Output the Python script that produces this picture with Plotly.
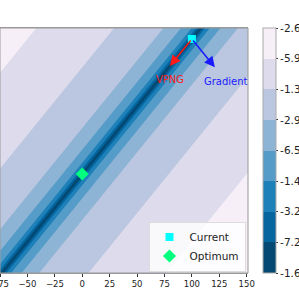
import numpy as np
import plotly.graph_objects as go

# ---- data ----
# contour level labels (colorbar, top -> bottom), truncated by the figure edge
level_labels = ["-2.64", "-5.92", "-1.33", "-2.94", "-6.52", "-1.45", "-3.27", "-7.29", "-1.62"]
# horizontal distance (x units) from the valley line at which each level boundary lies
boundary_dist = [0.0, 1.8, 4.1, 8.2, 18.0, 34.0, 79.0, 150.0, 400.0]
boundary_level = [0.5, 1.0, 2.0, 3.0, 4.0, 5.0, 6.0, 7.0, 8.0]
# band colours, darkest (centre) -> lightest
band_colors = ["#034973", "#04659f", "#1e80b8", "#559cc8", "#8db3d5", "#bbc7e0", "#dedcec", "#f6eff7"]

current_pt = [100.0, 100.0]
optimum_pt = [0.0, 0.0]
vpng_tip = [80.0, 80.0]
grad_tip = [121.0, 79.0]

x_ticks = [-75, -50, -25, 0, 25, 50, 75, 100, 125, 150]

# ---- field ----
gx = np.linspace(-80, 155, 471)
gy = np.linspace(-80, 115, 391)
X, Y = np.meshgrid(gx, gy)
H = np.abs((X - optimum_pt[0]) - (Y - optimum_pt[1]))
Z = np.interp(H, boundary_dist, boundary_level)

n = len(band_colors)
colorscale = [[k / (n - 1), c] for k, c in enumerate(band_colors)]
# stepped scale for the colour bar (8 equal bands)
step_scale = []
for k, c in enumerate(band_colors):
    step_scale.append([k / n, c])
    step_scale.append([(k + 1) / n, c])

fig = go.Figure()
fig.add_trace(go.Contour(
    x=gx, y=gy, z=Z,
    contours=dict(start=1, end=7, size=1, coloring="fill", showlines=False),
    line=dict(width=0),
    colorscale=colorscale, showscale=False,
    hoverinfo="skip",
))

# colour bar carrier (no visible point)
fig.add_trace(go.Scatter(
    x=[None], y=[None], mode="markers", showlegend=False, hoverinfo="skip",
    marker=dict(color=[0], cmin=0, cmax=n, colorscale=step_scale, showscale=True,
                colorbar=dict(
                    x=263 / 248, xanchor="left", xref="paper", xpad=0, ypad=0,
                    y=0.5, yanchor="middle", len=1.0, lenmode="fraction",
                    thickness=13, outlinecolor="#aaaaaa", outlinewidth=1,
                    tickmode="array", tickvals=list(range(n, -1, -1)), ticktext=level_labels,
                    ticks="outside", ticklen=2, tickcolor="#333",
                    tickfont=dict(family="DejaVu Sans", size=10.5, color="#222"),
                )),
))

fig.add_trace(go.Scatter(
    x=[current_pt[0]], y=[current_pt[1]], mode="markers", name="Current",
    marker=dict(symbol="square", size=8, color="#00ffff"),
))
fig.add_trace(go.Scatter(
    x=[optimum_pt[0]], y=[optimum_pt[1]], mode="markers", name="Optimum",
    marker=dict(symbol="diamond", size=10, color="#00ff7f"),
))

fig.add_annotation(x=vpng_tip[0], y=vpng_tip[1], ax=current_pt[0], ay=current_pt[1],
                   xref="x", yref="y", axref="x", ayref="y", text="", showarrow=True,
                   arrowhead=2, arrowsize=1.4, arrowwidth=1.5, arrowcolor="#ff1a1a")
fig.add_annotation(x=grad_tip[0], y=grad_tip[1], ax=current_pt[0], ay=current_pt[1],
                   xref="x", yref="y", axref="x", ayref="y", text="", showarrow=True,
                   arrowhead=2, arrowsize=1.4, arrowwidth=1.5, arrowcolor="#1a1aff")
fig.add_annotation(x=vpng_tip[0], y=vpng_tip[1], xref="x", yref="y", text="VPNG",
                   showarrow=False, yshift=-14, font=dict(family="DejaVu Sans", size=10, color="#ff2020"))
fig.add_annotation(x=grad_tip[0], y=grad_tip[1], xref="x", yref="y", text="Gradient",
                   showarrow=False, yshift=-14, xshift=11, font=dict(family="DejaVu Sans", size=10, color="#2020ff"))

fig.update_layout(
    width=299, height=296,
    margin=dict(l=0, r=51, t=28, b=23, autoexpand=False),
    paper_bgcolor="white", plot_bgcolor="white",
    showlegend=True,
    legend=dict(x=0.99, y=0.006, xanchor="right", yanchor="bottom",
                bgcolor="rgba(255,255,255,0.8)", bordercolor="#dddddd", borderwidth=1,
                font=dict(family="DejaVu Sans", size=10.5, color="#222")),
    xaxis=dict(range=[-75.05, 151.2], tickvals=x_ticks, ticks="outside", ticklen=3,
               tickcolor="#333", showgrid=False, zeroline=False, showline=True,
               linecolor="#999", mirror=True, ticklabeloverflow="allow",
               tickfont=dict(family="DejaVu Sans", size=8.5, color="#222")),
    yaxis=dict(range=[-73.3, 108.1], visible=False, showgrid=False),
)
fig.update_layout(shapes=[dict(type="rect", xref="paper", yref="paper", x0=0, x1=1, y0=0, y1=1,
                               line=dict(color="#999", width=1))])

fig.write_html("out.html", config={"displayModeBar": False},
               post_script="document.body.style.margin='0px';")
